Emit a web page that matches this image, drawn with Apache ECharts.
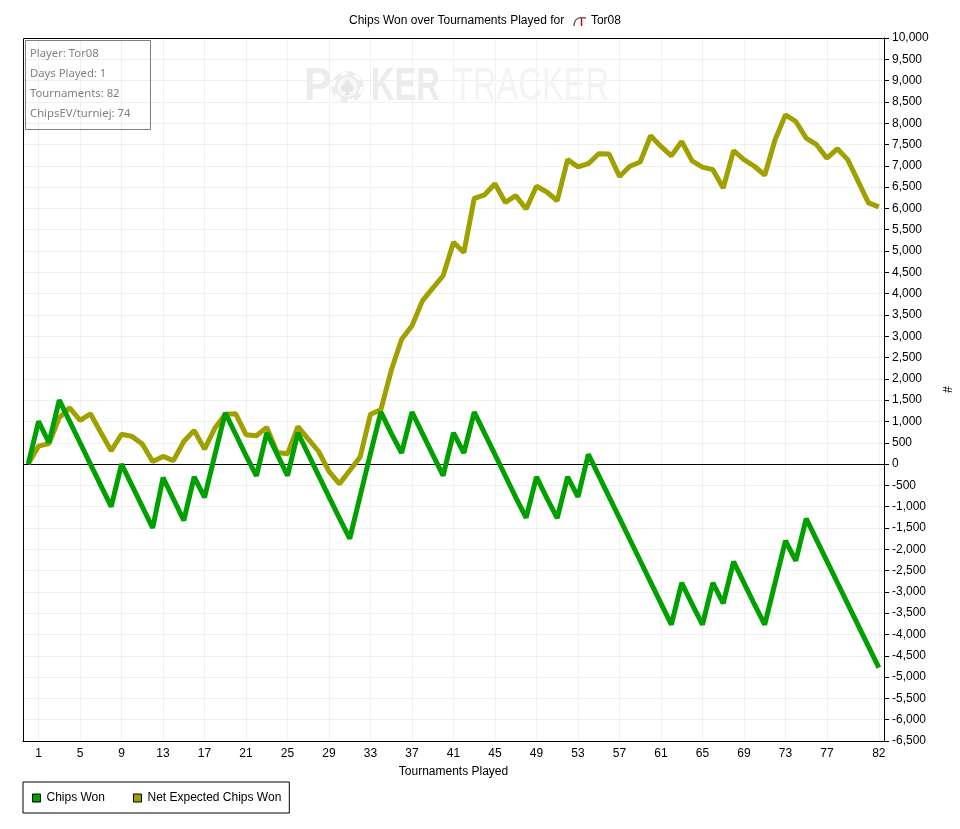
<!DOCTYPE html>
<html>
<head>
<meta charset="utf-8">
<title>Chips Won over Tournaments Played</title>
<script src="https://cdn.jsdelivr.net/npm/echarts@6/dist/echarts.min.js"></script>
<style>
  html, body { margin: 0; padding: 0; background: #fff; }
  #chart { width: 960px; height: 829px; }
</style>
</head>
<body>
<div id="chart"></div>
<script>
var tournaments = [];
for (var t = 0; t <= 82; t++) {
  tournaments.push(String(t));
}
var xTickLabels = ['1', '5', '9', '13', '17', '21', '25', '29', '33', '37', '41', '45', '49', '53', '57', '61', '65', '69', '73', '77', '82'];

var chipsWon = [
  0, 1000, 500, 1500, 1000, 500, 0, -500, -1000, 0,
  -500, -1000, -1500, -320, -820, -1320, -300, -780, 220, 1200,
  700, 200, -280, 730, 230, -270, 730, 230, -270, -770,
  -1270, -1750, -750, 250, 1220, 720, 260, 1220, 720, 220,
  -270, 730, 260, 1220, 720, 220, -280, -780, -1260, -300,
  -800, -1270, -300, -770, 230, -270, -770, -1270, -1770, -2270,
  -2770, -3270, -3770, -2790, -3290, -3770, -2790, -3270, -2290, -2790,
  -3290, -3770, -2790, -1800, -2270, -1280, -1780, -2280, -2780, -3280,
  -3780, -4280, -4780
];
var netExpected = [
  0, 420, 480, 1090, 1320, 1025, 1180, 740, 310, 700,
  650, 470, 60, 180, 80, 530, 790, 350, 845, 1170,
  1180, 690, 665, 860, 270, 240, 880, 585, 295, -170,
  -465, -150, 165, 1170, 1275, 2200, 2930, 3245, 3830, 4130,
  4420, 5205, 4965, 6235, 6320, 6580, 6140, 6300, 5985, 6520,
  6385, 6180, 7145, 6975, 7050, 7285, 7275, 6750, 6990, 7090,
  7705, 7455, 7235, 7570, 7115, 6970, 6910, 6480, 7355, 7145,
  6990, 6780, 7610, 8195, 8040, 7650, 7495, 7180, 7400, 7145,
  6640, 6130, 6035
];
var infoLines = ['Player: Tor08', 'Days Played: 1', 'Tournaments: 82', 'ChipsEV/turniej: 74'];

var GREEN = '#00a000';
var OLIVE = '#a0a000';
var FONT = '"Liberation Sans", Arial, sans-serif';

function isXTick(index) {
  return xTickLabels.indexOf(tournaments[index]) !== -1;
}

var decor = [];

// watermark behind the lines
function mark(text, x, scaleX, weight, color) {
  decor.push({
    type: 'text', x: x, y: 87, scaleX: scaleX, z: 1, silent: true,
    style: { text: text, fontFamily: FONT, fontSize: 46, fontWeight: weight, fill: color, textVerticalAlign: 'middle' }
  });
}
mark('P', 304, 0.9, 'bold', '#ececec');
mark('KER', 371, 0.71, 'bold', '#ececec');
mark('TRACKER', 453, 0.71, 'normal', '#f3f3f3');
decor.push({ type: 'circle', z: 1, silent: true, shape: { cx: 347.5, cy: 87, r: 16 }, style: { fill: '#ececec' } });
decor.push({ type: 'circle', z: 1, silent: true, shape: { cx: 347.5, cy: 87, r: 14 }, style: { fill: 'none', stroke: '#fff', lineWidth: 3, lineDash: [7, 7.6] } });
decor.push({ type: 'circle', z: 1, silent: true, shape: { cx: 347.5, cy: 87, r: 10 }, style: { fill: '#f8f8f8' } });
decor.push({
  type: 'polygon', z: 1, silent: true,
  shape: { points: [[347.5, 79], [354, 87], [354, 90], [351, 92], [349, 91], [350, 95], [345, 95], [346, 91], [344, 92], [341, 90], [341, 87]] },
  style: { fill: '#e6e6e6' }
});

// plot frame, on top of the split line ends
decor.push({ type: 'rect', z: 2, silent: true, shape: { x: 23.5, y: 38.5, width: 861, height: 703 }, style: { fill: 'none', stroke: '#000', lineWidth: 1 } });

// info box
decor.push({ type: 'rect', z: 6, silent: true, shape: { x: 25.5, y: 40.5, width: 125, height: 89 }, style: { fill: 'none', stroke: '#808080', lineWidth: 1 } });
infoLines.forEach(function (line, i) {
  decor.push({
    type: 'text', z: 6, silent: true, x: 30, y: 53.5 + i * 20,
    style: { text: line, fontFamily: '"Noto Sans", sans-serif', fontSize: 11.3, fill: '#808080', textVerticalAlign: 'middle' }
  });
});

// small player icon in the title
decor.push({ type: 'bezierCurve', z: 6, silent: true, shape: { x1: 574, y1: 26, cpx1: 574, cpy1: 16, x2: 586, y2: 18 }, style: { fill: 'none', stroke: '#555', lineWidth: 1.3 } });
decor.push({ type: 'line', z: 6, silent: true, shape: { x1: 581.5, y1: 18, x2: 581.5, y2: 26 }, style: { stroke: '#d00000', lineWidth: 1.5 } });

var chart = echarts.init(document.getElementById('chart'));

chart.setOption({
  backgroundColor: '#fff',
  animation: false,
  textStyle: { fontFamily: FONT },
  title: {
    text: 'Chips Won over Tournaments Played for        Tor08',
    left: 349,
    top: 15,
    padding: 0,
    textStyle: { fontFamily: FONT, fontSize: 12, fontWeight: 'normal', color: '#000' }
  },
  legend: {
    left: 23,
    top: 782,
    orient: 'horizontal',
    padding: [10, 8, 9, 9],
    itemGap: 28,
    itemWidth: 8,
    itemHeight: 8,
    icon: 'rect',
    borderColor: '#000',
    borderWidth: 1,
    borderRadius: 0,
    data: ['Chips Won', 'Net Expected Chips Won'],
    itemStyle: { borderColor: '#000', borderWidth: 1 },
    textStyle: { fontFamily: FONT, fontSize: 12, color: '#000', padding: [0, 0, 0, 1] }
  },
  grid: { left: 23, top: 38, width: 861, height: 703 },
  xAxis: {
    type: 'category',
    data: tournaments,
    boundaryGap: true,
    name: 'Tournaments Played',
    nameLocation: 'middle',
    nameGap: 25,
    nameTextStyle: { fontFamily: FONT, fontSize: 12, color: '#000' },
    axisLine: { onZero: false, lineStyle: { color: '#000' } },
    axisTick: { alignWithLabel: true, length: 4, interval: function (i) { return isXTick(i); }, lineStyle: { color: '#000' } },
    axisLabel: { interval: function (i) { return isXTick(i); }, margin: 7, color: '#000', fontFamily: FONT, fontSize: 12 },
    splitLine: { show: true, alignWithLabel: true, interval: function (i) { return isXTick(i); }, lineStyle: { color: '#f0f0f0' } }
  },
  yAxis: {
    type: 'value',
    position: 'right',
    min: -6500,
    max: 10000,
    interval: 500,
    name: '#',
    nameLocation: 'middle',
    nameRotate: -90,
    nameGap: 56,
    nameTextStyle: { fontFamily: FONT, fontSize: 12, color: '#000' },
    axisLine: { show: true, lineStyle: { color: '#000' } },
    axisTick: { show: true, length: 5, lineStyle: { color: '#000' } },
    axisLabel: {
      margin: 8, color: '#000', fontFamily: FONT, fontSize: 12, padding: [2, 0, 0, 0],
      formatter: function (v) { return v.toLocaleString('en-US'); }
    },
    splitLine: { show: true, lineStyle: { color: '#f0f0f0' } }
  },
  series: [
    {
      name: 'Chips Won',
      type: 'line',
      z: 4,
      data: chipsWon,
      symbol: 'none',
      color: GREEN,
      lineStyle: { color: GREEN, width: 5, join: 'bevel' },
      emphasis: { disabled: true }
    },
    {
      name: 'Net Expected Chips Won',
      type: 'line',
      z: 3,
      data: netExpected,
      symbol: 'none',
      color: OLIVE,
      lineStyle: { color: OLIVE, width: 5, join: 'bevel' },
      emphasis: { disabled: true },
      markLine: {
        z: 2,
        silent: true,
        symbol: 'none',
        label: { show: false },
        lineStyle: { color: '#000', width: 1, type: 'solid' },
        data: [{ yAxis: 0 }]
      }
    }
  ],
  graphic: decor
});
</script>
</body>
</html>
